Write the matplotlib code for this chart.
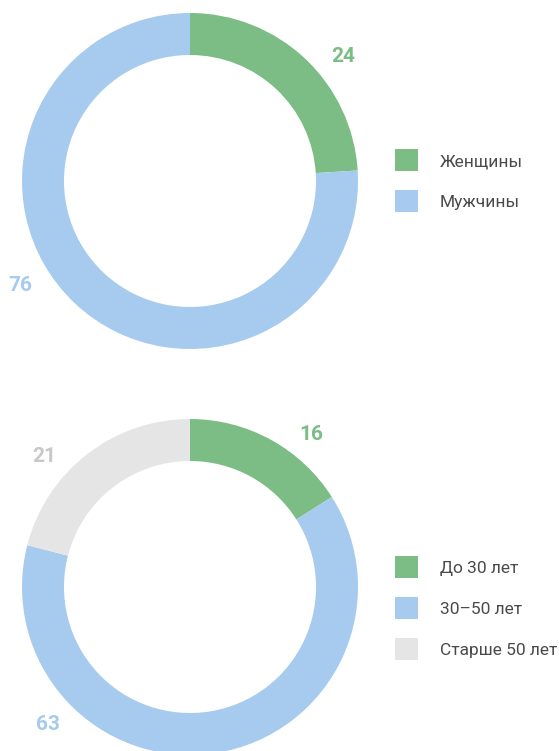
import numpy as np
import matplotlib
matplotlib.use("Agg")
import matplotlib.pyplot as plt
from matplotlib.patches import Rectangle
from matplotlib.transforms import offset_copy

plt.rcParams['font.family'] = ['Roboto', 'DejaVu Sans']

GREEN = "#7bbd84"
BLUE = "#a7cbee"
GRAY = "#e5e5e5"
GRAY_TXT = "#c8c8c8"
TEXT = "#4a4a4a"

# data
gender_labels = ["Женщины", "Мужчины"]
gender_values = [24, 76]
age_labels = ["До 30 лет", "30–50 лет", "Старше 50 лет"]
age_values = [16, 63, 21]

W, H = 559, 751
fig = plt.figure(figsize=(W / 100, H / 100), dpi=100)


def px_axes(cx, cy, r):
    return fig.add_axes([(cx - r) / W, (H - cy - r) / H, 2 * r / W, 2 * r / H])


def donut(ax, values, colors, txt_colors, label_angles, label_r):
    ax.pie(values, colors=colors, startangle=90, counterclock=False, radius=1,
           wedgeprops=dict(width=0.25, linewidth=0))
    tr = offset_copy(ax.transData, fig=fig, x=0, y=-2, units="dots")
    for v, c, a in zip(values, txt_colors, label_angles):
        t = np.deg2rad(a)
        ax.text(label_r * np.cos(t), label_r * np.sin(t), str(v), color=c,
                fontsize=15, fontweight="bold", ha="center", va="center",
                transform=tr)
    ax.set_xlim(-1, 1)
    ax.set_ylim(-1, 1)
    ax.set_aspect("equal")
    ax.axis("off")


def legend(labels, colors, y0):
    for i, (lab, c) in enumerate(zip(labels, colors)):
        y = y0 + i * 41
        fig.patches.append(Rectangle((395 / W, 1 - (y + 11) / H), 23 / W, 22 / H,
                                     transform=fig.transFigure, color=c, lw=0))
        fig.text(440 / W, 1 - (y + 2) / H, lab, color=TEXT, fontsize=12.5,
                 ha="left", va="center")


ax1 = px_axes(190, 181, 168)
donut(ax1, gender_values, [GREEN, BLUE], [GREEN, BLUE], [39.5, 211], 1.18)
legend(gender_labels, [GREEN, BLUE], 160)

ax2 = px_axes(190, 587, 168)
donut(ax2, age_values, [GREEN, BLUE, GRAY], [GREEN, BLUE, GRAY_TXT], [52, 223.6, 137.7], 1.17)
legend(age_labels, [GREEN, BLUE, GRAY], 567)

fig.savefig("out.png", dpi=100)
